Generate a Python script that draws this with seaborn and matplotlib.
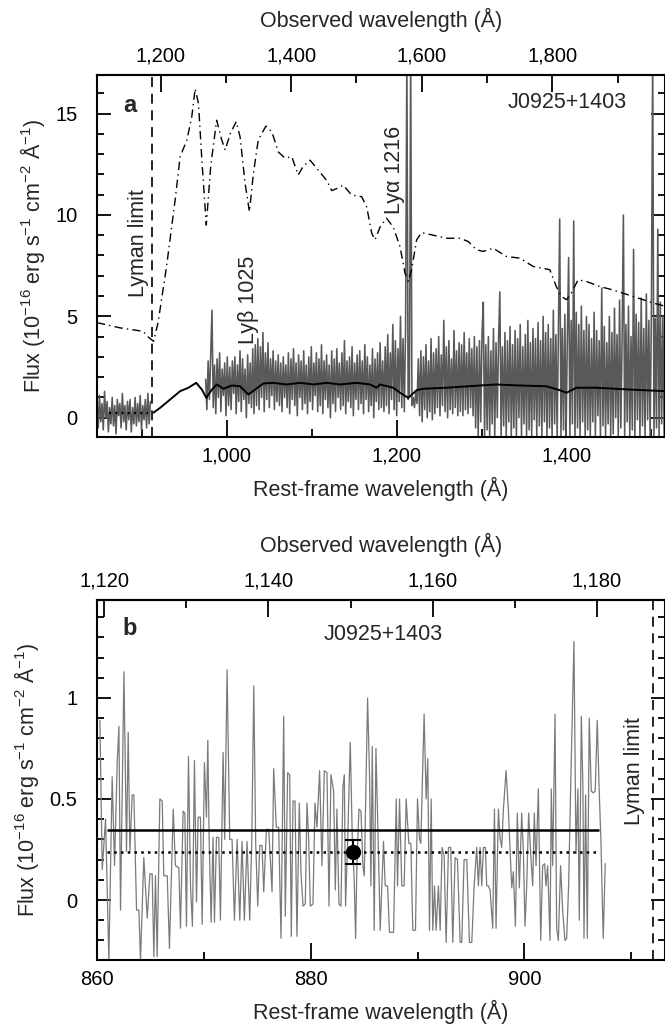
import numpy as np
import matplotlib
matplotlib.use("Agg")
import matplotlib.pyplot as plt
from matplotlib.ticker import MultipleLocator, FixedLocator, FuncFormatter
import seaborn as sns

sns.set_style("ticks")
plt.rcParams["font.family"] = ["Liberation Sans", "DejaVu Sans"]
plt.rcParams["mathtext.fontset"] = "custom"
plt.rcParams["mathtext.rm"] = "Liberation Sans"
plt.rcParams["mathtext.it"] = "Liberation Sans:italic"
plt.rcParams["mathtext.bf"] = "Liberation Sans:bold"

Z = 0.3013          # redshift of J0925+1403
LYMAN_LIMIT = 912.0
FS = 15.5
TICK_FS = 14.5

# ---------------------------------------------------------------
# panel a: observed spectrum (rest-frame pixel grid, 1.5 A bins)
# ---------------------------------------------------------------
blue_start, blue_step = 847.0, 1.5
blue_flux = [0.9, -0.5, 1.1, -0.2, 0.7, -0.6, 1.3, 0.0, 0.8, -0.7,
             0.5, -0.3, 1.0, -0.4, 0.6, -0.8, 0.9, 0.1, 0.7, -0.5,
             1.2, -0.2, 0.6, -0.6, 0.8, -0.1, 0.9, -0.7, 0.5, -0.3,
             1.0, -0.4, 0.7, -0.2, 1.1, -0.6, 0.6, -0.1, 0.9, -0.5,
             1.2, -0.3, 0.8]

band_start, band_step = 975.0, 1.5
band_flux = [
    1.9, 0.4, 2.8, 0.9, 3.1, 5.3, 0.5, 2.6, 0.2, 2.9, 1.0, 3.2, 0.3, 2.4, 1.1, 2.7, 0.1, 3.0, 0.6, 2.5,
    0.4, 2.8, 1.2, 3.0, 0.2, 2.6, 0.8, 3.3, 0.3, 2.9, 0.9, 2.4, 0.0, 3.1, 0.7, 2.7, 0.5, 3.4, 0.2, 3.6,
    0.6, 3.9, 0.4, 3.5, 1.0, 4.2, 0.3, 3.2, 0.9, 3.7, 0.5, 2.9, 1.1, 3.3, 0.4, 2.8, 0.8, 3.1, 0.6, 2.7,
    0.3, 3.0, 1.0, 2.6, 0.5, 3.2, 0.2, 2.9, 0.9, 3.4, 0.6, 2.7, 0.1, 3.1, 1.0, 2.8, 0.4, 3.3, 0.7, 2.6,
    0.2, 3.0, 0.8, 3.5, 0.4, 2.7, 1.1, 3.2, 0.3, 2.9, 0.6, 3.6, 0.2, 2.8, 0.9, 3.1, 0.5, 2.6, 0.0, 3.3,
    0.7, 2.9, 0.3, 3.4, 1.0, 2.7, 0.4, 3.2, 0.6, 3.8, 0.2, 2.8, 0.8, 3.0, 0.5, 3.5, 0.1, 2.7, 0.9, 3.1,
    0.4, 3.3, 0.7, 2.8, 0.2, 3.6, 0.9, 3.0, 0.3, 2.6, 0.6, 3.4, 0.0, 2.9, 0.8, 3.2, 0.4, 3.7, 0.5, 2.8,
    0.3, 3.5, 0.6, 4.1, 0.2, 3.2, 0.9, 4.6, 0.4, 3.8, 0.1, 3.4, 0.8, 5.0, 0.5, 3.9, 0.3, 4.4, 18.0, 0.9,
    1.2, 18.0, 0.6, 1.0, 0.5, 1.3, 0.7, 2.9, 0.1, 3.3, -0.2, 3.0, 0.4, 3.6, 0.0, 2.8, 0.3, 3.9, -0.1, 3.2,
    0.2, 3.4, 0.5, 4.0, 0.1, 3.1, 0.6, 4.8, 0.3, 3.5, 0.0, 3.8, 0.4, 2.9, 0.2, 4.3, 0.5, 3.3, 0.1, 3.7,
    0.3, 3.6, 0.1, 4.2, 0.4, 3.2, 0.2, 3.9, 0.5, 3.4, 0.1, 4.0, -0.5, 3.5, -0.9, 3.8, -0.2, 4.1, 5.7, -0.9,
    3.6, -0.6, 4.0, -0.9, 3.3, -0.3, 4.4, -0.9, 3.7, 0.0, 3.9, 6.2, -0.9, 3.5, -0.4, 4.2, -0.9, 3.8, -0.2, 4.5,
    -0.9, 3.6, -0.5, 4.3, -0.9, 3.9, 0.0, 4.6, -0.9, 3.5, -0.3, 4.1, -0.9, 4.8, -0.6, 3.7, -0.9, 4.4, -0.1, 3.9,
    -0.9, 4.7, -0.4, 3.8, -0.9, 5.0, -0.2, 4.2, -0.9, 4.6, -0.5, 3.9, -0.9, 5.3, -0.3, 4.1, -0.9, 4.5, 9.8, -0.9,
    4.4, -0.6, 5.1, -0.9, 4.0, 7.9, -0.9, 4.8, -0.3, 9.7, -0.9, 5.2, -0.5, 4.6, -0.9, 5.5, -0.2, 4.3, -0.9, 5.0,
    -0.6, 4.6, -0.9, 3.9, -0.2, 5.2, -0.9, 4.3, 0.1, 3.8, -0.9, 6.4, -0.4, 4.5, -0.9, 3.7, -0.3, 5.0, -0.9, 4.2,
    -0.8, 5.4, 0.0, 4.1, -0.9, 5.8, -0.5, 3.9, 10.0, -0.9, 4.6, -0.2, 5.5, -0.9, 4.0, -0.6, 8.3, -0.9, 5.1, -0.1,
    4.7, -0.9, 5.9, -0.4, 4.4, -0.9, 6.1, -0.1, 4.8, -0.9, 5.3, 18.0, -0.9, 4.9, -0.5, 9.3, -0.9, 5.7, -0.3, 5.0,
    -0.9, 5.5,
]

# smooth model continuum (solid black)
model_wave = [913.7, 921.5, 933.3, 945.0, 954.8, 963.9, 970.6, 975.8, 982.4, 988.2,
              996.0, 1005.9, 1015.6, 1025.4, 1033.3, 1043.0, 1054.8, 1070.6, 1086.2, 1101.9,
              1117.6, 1133.3, 1153.0, 1168.6, 1176.5, 1180.4, 1196.0, 1204.0, 1213.7, 1223.5,
              1231.3, 1258.9, 1298.0, 1317.6, 1345.0, 1376.5, 1392.0, 1400.0, 1411.8, 1435.3,
              1474.5, 1516.0]
model_flux = [0.25, 0.49, 0.90, 1.31, 1.48, 1.72, 1.39, 0.98, 1.39, 1.64,
              1.43, 1.59, 1.55, 1.15, 1.39, 1.69, 1.72, 1.64, 1.72, 1.64,
              1.72, 1.64, 1.72, 1.64, 1.48, 1.64, 1.48, 1.23, 0.98, 1.36,
              1.43, 1.48, 1.59, 1.64, 1.59, 1.55, 1.36, 1.23, 1.48, 1.48,
              1.39, 1.31]

# scaled composite template (dash-dot)
templ_wave = [847.0, 874.5, 901.5, 907.0, 913.7, 919.0, 929.0, 939.0, 945.0, 953.0,
              958.7, 962.7, 966.6, 970.6, 975.8, 981.0, 988.0, 994.0, 998.0, 1004.0,
              1011.0, 1015.6, 1021.5, 1026.6, 1031.3, 1037.0, 1046.0, 1053.0, 1060.7, 1068.6,
              1076.5, 1084.0, 1090.0, 1098.0, 1107.8, 1117.6, 1123.5, 1129.4, 1137.0, 1147.0,
              1158.8, 1164.7, 1170.6, 1174.5, 1180.4, 1188.0, 1196.0, 1203.9, 1209.8, 1213.7,
              1217.6, 1223.5, 1229.4, 1243.0, 1258.9, 1274.5, 1284.3, 1294.0, 1302.0, 1313.6,
              1329.4, 1345.0, 1360.7, 1380.4, 1388.0, 1394.0, 1400.0, 1405.8, 1413.6, 1423.5,
              1439.0, 1454.9, 1478.5, 1502.0, 1516.0]
templ_flux = [4.69, 4.43, 4.26, 4.00, 3.77, 4.69, 7.46, 10.70, 12.87, 13.70,
              14.84, 16.23, 15.50, 12.70, 9.50, 12.40, 14.67, 13.70, 13.20, 14.00,
              14.60, 13.85, 11.56, 10.16, 12.05, 13.70, 14.38, 14.10, 13.10, 12.80,
              12.87, 11.97, 12.40, 12.70, 12.20, 11.70, 11.20, 11.30, 11.47, 10.98,
              10.90, 10.40, 9.10, 8.77, 9.40, 9.84, 9.40, 8.44, 7.13, 6.72,
              7.30, 8.77, 9.13, 9.00, 8.85, 8.85, 8.69, 8.28, 8.20, 8.36,
              7.95, 7.87, 7.46, 7.30, 6.47, 5.98, 5.82, 6.15, 6.80, 6.72,
              6.47, 6.30, 5.98, 5.66, 5.50]

# ---------------------------------------------------------------
# panel b: zoom below the Lyman limit
# ---------------------------------------------------------------
b_wave = [860.27, 860.49, 860.80, 861.11, 861.42, 861.64, 861.89, 862.05, 862.20, 862.52,
          862.76, 862.92, 863.08, 863.29, 863.45, 863.70, 863.92, 864.07, 864.38, 864.70,
          864.95, 865.16, 865.32, 865.47, 865.63, 865.88, 866.10, 866.25, 866.57, 866.78,
          867.13, 867.34, 867.66, 867.81, 868.06, 868.22, 868.37, 868.56, 868.75, 868.93,
          869.12, 869.31, 869.46, 869.68, 869.84, 870.05, 870.24, 870.37, 870.49, 870.68,
          870.86, 870.99, 871.18, 871.39, 871.55, 871.80, 871.95, 872.17, 872.42, 872.64,
          872.86, 873.11, 873.36, 873.57, 873.79, 874.04, 874.29, 874.48, 874.67, 874.85,
          875.04, 875.23, 875.44, 875.60, 875.85, 876.07, 876.38, 876.53, 876.78, 877.00,
          877.22, 877.47, 877.62, 877.84, 878.03, 878.18, 878.34, 878.53, 878.71, 878.93,
          879.09, 879.28, 879.49, 879.65, 879.80, 879.96, 880.21, 880.40, 880.58, 880.83,
          881.05, 881.27, 881.52, 881.71, 881.89, 882.14, 882.30, 882.45, 882.64, 882.83,
          883.01, 883.14, 883.26, 883.45, 883.70, 883.89, 884.07, 884.20, 884.32, 884.51,
          884.70, 884.88, 885.01, 885.32, 885.51, 885.63, 885.76, 885.94, 886.10, 886.35,
          886.50, 886.81, 886.97, 887.19, 887.37, 887.59, 887.75, 888.00, 888.12, 888.31,
          888.52, 888.74, 888.93, 889.18, 889.37, 889.55, 889.80, 889.99, 890.18, 890.30,
          890.61, 890.80, 890.95, 891.11, 891.27, 891.42, 891.58, 891.73, 891.95, 892.11,
          892.29, 892.48, 892.67, 892.89, 893.10, 893.29, 893.51, 893.73, 893.98, 894.13,
          894.35, 894.60, 894.85, 895.07, 895.29, 895.53, 895.69, 895.85, 896.00, 896.16,
          896.34, 896.47, 896.62, 896.78, 897.03, 897.19, 897.34, 897.56, 897.71, 897.87,
          898.03, 898.28, 898.49, 898.65, 898.81, 898.96, 899.15, 899.33, 899.52, 899.74,
          899.90, 900.05, 900.21, 900.39, 900.58, 900.77, 900.92, 901.08, 901.30, 901.52,
          901.70, 901.89, 902.01, 902.17, 902.39, 902.51, 902.64, 902.86, 903.01, 903.17,
          903.38, 903.57, 903.79, 903.95, 904.13, 904.32, 904.63, 904.82, 905.00, 905.13,
          905.32, 905.47, 905.57, 905.72, 905.88, 906.06, 906.25, 906.44, 906.62, 906.81,
          907.00, 907.15, 907.37, 907.56]
b_flux = [0.89, 0.15, 0.40, -0.30, 0.61, 0.17, 0.68, 0.86, -0.05, 1.13,
          0.24, 0.83, 0.24, 0.52, 0.52, -0.05, -0.05, -0.30, 0.21, -0.09,
          0.13, 0.13, -0.28, 0.12, -0.28, 0.50, 0.49, 0.12, 0.12, -0.24,
          0.45, 0.17, 0.16, -0.14, 0.44, 0.43, -0.13, 0.71, 0.07, -0.13,
          0.69, -0.01, 0.41, 0.41, -0.12, 0.68, 0.41, 0.79, 0.31, -0.11,
          0.31, -0.11, 0.31, 0.31, -0.10, 0.73, 0.30, 1.14, 0.30, 0.30,
          -0.10, 0.30, -0.10, 0.29, -0.10, 0.29, -0.10, 0.28, 1.06, 0.28,
          -0.03, 0.27, 0.27, 0.04, 0.35, 0.35, 0.04, 0.65, 0.36, 0.36,
          -0.19, 0.91, -0.08, 0.63, 0.62, -0.18, 0.49, 0.49, -0.18, 0.48,
          0.13, -0.03, -0.02, 0.48, 0.31, -0.03, -0.02, 0.48, 0.36, 0.64,
          0.17, 0.64, 0.63, -0.03, 0.62, 0.54, 0.05, 0.45, -0.02, -0.03,
          0.56, 0.62, -0.03, 0.28, 0.78, 0.30, 0.10, -0.19, 0.17, 0.45,
          0.44, 0.17, 0.12, 1.00, 0.60, 0.07, 0.76, -0.15, 0.75, 0.21,
          -0.15, 0.29, 0.07, 0.07, -0.16, -0.16, -0.16, 0.50, 0.07, 0.50,
          0.07, 0.07, 0.50, 0.28, 0.28, -0.15, -0.15, 0.50, 0.30, 0.28,
          0.92, 0.50, 0.70, -0.15, 0.50, -0.15, 0.07, -0.15, 0.07, -0.15,
          0.26, 0.22, -0.21, 0.26, 0.26, -0.21, 0.21, 0.20, -0.21, -0.21,
          0.20, 0.20, -0.21, -0.21, 0.07, 0.26, 0.07, 0.26, 0.07, 0.26,
          0.26, 0.07, 0.07, 0.05, -0.14, 0.45, -0.14, 0.45, 0.31, 0.26,
          0.45, 0.64, 0.45, 0.25, 0.06, 0.14, -0.13, 0.43, 0.06, 0.43,
          0.23, -0.13, 0.07, 0.43, 0.23, 0.07, 0.43, 0.17, 0.55, -0.20,
          0.17, 0.18, 0.07, 0.17, -0.20, 0.55, 0.17, 0.92, -0.14, -0.20,
          0.17, -0.05, -0.20, -0.19, 0.07, 0.55, 1.28, 0.23, 0.55, -0.10,
          0.91, 0.55, -0.19, 0.52, -0.19, 0.90, 0.54, 0.53, 0.54, 0.89,
          0.53, 0.30, -0.19, 0.18]

# mean flux levels over the 861-907 A window and the stacked measurement
level_range = [860.9, 907.0]
mean_solid = 0.347
mean_dotted = 0.236
point_wave = [884.0]
point_flux = [0.236]
point_err = [0.06]

# observed-frame tick labels
obs_ticks_a = [1200, 1400, 1600, 1800]
obs_ticks_b = [1120, 1140, 1160, 1180]


def to_obs(x):
    return x * (1 + Z)


def to_rest(x):
    return x / (1 + Z)


def style_axes(ax, major_x, minor_x, major_y, minor_y, obs_ticks, obs_minor):
    for sp in ax.spines.values():
        sp.set_linewidth(1.5)
        sp.set_color("black")
    ax.xaxis.set_major_locator(MultipleLocator(major_x))
    ax.xaxis.set_minor_locator(MultipleLocator(minor_x))
    ax.yaxis.set_major_locator(MultipleLocator(major_y))
    ax.yaxis.set_minor_locator(MultipleLocator(minor_y))
    ax.xaxis.set_major_formatter(FuncFormatter(lambda v, p: f"{v:,.0f}"))
    ax.yaxis.set_major_formatter(FuncFormatter(lambda v, p: f"{v:g}"))
    ax.tick_params(axis="both", which="both", direction="in", top=False, right=True,
                   colors="black", labelsize=TICK_FS)
    ax.tick_params(axis="x", which="major", length=12, width=1.3, pad=7)
    ax.tick_params(axis="x", which="minor", length=6, width=1.3)
    ax.tick_params(axis="y", which="major", length=10, width=1.3, pad=14)
    ax.tick_params(axis="y", which="minor", length=5, width=1.3)
    sec = ax.secondary_xaxis("top", functions=(to_obs, to_rest))
    sec.spines["top"].set_linewidth(1.5)
    sec.xaxis.set_major_locator(FixedLocator(obs_ticks))
    sec.xaxis.set_minor_locator(MultipleLocator(obs_minor))
    sec.xaxis.set_major_formatter(FuncFormatter(lambda v, p: f"{v:,.0f}"))
    sec.tick_params(axis="x", which="both", direction="in", colors="black", labelsize=TICK_FS)
    sec.tick_params(axis="x", which="major", length=12, width=1.3, pad=7)
    sec.tick_params(axis="x", which="minor", length=6, width=1.3)
    sec.set_xlabel("Observed wavelength (Å)", fontsize=FS, labelpad=14)
    ax.set_xlabel("Rest-frame wavelength (Å)", fontsize=FS, labelpad=8)
    ax.set_ylabel("Flux (10$^{-16}$ erg s$^{-1}$ cm$^{-2}$ Å$^{-1}$)", fontsize=FS, labelpad=6)
    ax.grid(False)


fig = plt.figure(figsize=(6.65, 10.26), dpi=100)

# ---------------------------------------------------------------
# panel a
# ---------------------------------------------------------------
ax_a = fig.add_axes([97 / 665, 1 - 437 / 1026, 568 / 665, 362 / 1026])
blue_wave = blue_start + blue_step * np.arange(len(blue_flux))
band_wave = band_start + band_step * np.arange(len(band_flux))
sns.lineplot(x=blue_wave, y=blue_flux, ax=ax_a, color="#595959", lw=1.15,
             sort=False, estimator=None)
sns.lineplot(x=band_wave, y=band_flux, ax=ax_a, color="#595959", lw=1.15,
             sort=False, estimator=None)
ax_a.plot(model_wave, model_flux, color="black", lw=1.4)
ax_a.plot(templ_wave, templ_flux, color="black", lw=1.0, ls=(0, (6, 3, 1, 3)))
ax_a.hlines(mean_dotted, *level_range, color="black", lw=1.5, ls=(0, (1, 2)))
ax_a.axvline(LYMAN_LIMIT, color="black", lw=1.2, ls=(0, (6, 4)))
ax_a.set_xlim(847.1, 1516.0)
ax_a.set_ylim(-0.95, 16.9)
style_axes(ax_a, 200, 100, 5, 1, obs_ticks_a, 100)

ax_a.text(0.058, 0.917, "a", transform=ax_a.transAxes, fontsize=17, fontweight="bold",
          ha="center", va="center")
ax_a.text(0.827, 0.923, "J0925+1403", transform=ax_a.transAxes, fontsize=FS,
          ha="center", va="center")
ax_a.text(895.5, 8.6, "Lyman limit", rotation=90, fontsize=FS, ha="center", va="center")
ax_a.text(1025.0, 5.8, "Lyβ 1025", rotation=90, fontsize=FS, ha="center", va="center")
ax_a.text(1198.0, 12.2, "Lyα 1216", rotation=90, fontsize=FS, ha="center", va="center")

# ---------------------------------------------------------------
# panel b
# ---------------------------------------------------------------
ax_b = fig.add_axes([97 / 665, 1 - 960 / 1026, 568 / 665, 360 / 1026])
sns.lineplot(x=b_wave, y=b_flux, ax=ax_b, color="#7a7a7a", lw=0.9,
             sort=False, estimator=None)
ax_b.hlines(mean_solid, *level_range, color="black", lw=1.8)
ax_b.hlines(mean_dotted, *level_range, color="black", lw=1.8, ls=(0, (1, 1.7)))
ax_b.errorbar(point_wave, point_flux, yerr=point_err, fmt="o", color="black", ms=10,
              capsize=6, elinewidth=1.5, capthick=1.5, zorder=5)
ax_b.axvline(LYMAN_LIMIT, color="black", lw=1.2, ls=(0, (6, 4)))
ax_b.set_xlim(860.0, 913.15)
ax_b.set_ylim(-0.297, 1.485)
style_axes(ax_b, 20, 10, 0.5, 0.1, obs_ticks_b, 10)

ax_b.text(0.058, 0.922, "b", transform=ax_b.transAxes, fontsize=17, fontweight="bold",
          ha="center", va="center")
ax_b.text(0.504, 0.903, "J0925+1403", transform=ax_b.transAxes, fontsize=FS,
          ha="center", va="center")
ax_b.text(910.3, 0.64, "Lyman limit", rotation=90, fontsize=FS, ha="center", va="center")

fig.savefig("out.png", dpi=100)
